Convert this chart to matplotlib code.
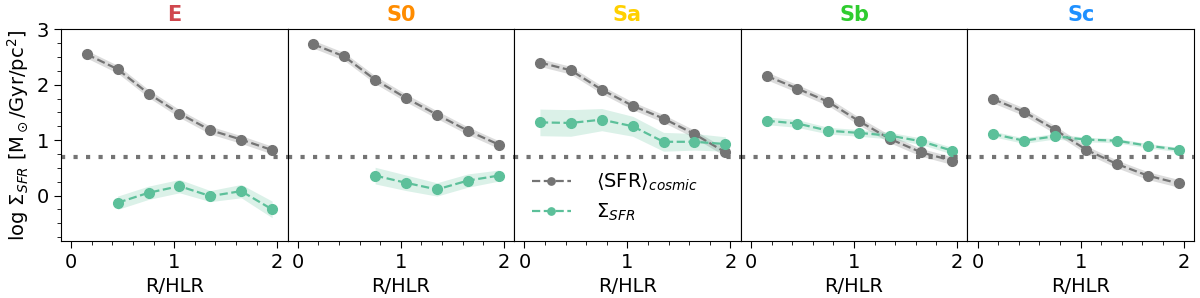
import numpy as np
import matplotlib
matplotlib.use("Agg")
import matplotlib.pyplot as plt
from matplotlib.ticker import MultipleLocator

types = ["E", "S0", "Sa", "Sb", "Sc"]
title_colors = ["#d0474e", "#ff8c00", "#ffd000", "#2fcc2f", "#1e90ff"]
radius = [0.15, 0.45, 0.75, 1.05, 1.35, 1.65, 1.95]

cosmic = {
    "E":  [2.55, 2.28, 1.84, 1.48, 1.18, 1.01, 0.82],
    "S0": [2.73, 2.51, 2.09, 1.76, 1.46, 1.17, 0.92],
    "Sa": [2.40, 2.26, 1.91, 1.62, 1.39, 1.11, 0.78],
    "Sb": [2.16, 1.93, 1.69, 1.34, 1.02, 0.78, 0.63],
    "Sc": [1.74, 1.51, 1.19, 0.83, 0.57, 0.36, 0.22],
}
cosmic_err = {
    "E":  [0.07, 0.07, 0.07, 0.07, 0.07, 0.07, 0.07],
    "S0": [0.07, 0.07, 0.07, 0.07, 0.07, 0.07, 0.07],
    "Sa": [0.07, 0.07, 0.07, 0.07, 0.07, 0.07, 0.07],
    "Sb": [0.07, 0.07, 0.07, 0.07, 0.07, 0.07, 0.07],
    "Sc": [0.07, 0.07, 0.07, 0.07, 0.07, 0.07, 0.07],
}
sfr = {
    "E":  [None, -0.13, 0.05, 0.17, -0.01, 0.08, -0.25],
    "S0": [None, None, 0.36, 0.23, 0.11, 0.27, 0.36],
    "Sa": [1.32, 1.31, 1.37, 1.25, 0.97, 0.97, 0.93],
    "Sb": [1.35, 1.30, 1.17, 1.13, 1.08, 0.98, 0.81],
    "Sc": [1.11, 0.99, 1.07, 1.01, 0.99, 0.90, 0.83],
}
sfr_err = {
    "E":  [None, 0.12, 0.12, 0.12, 0.10, 0.12, 0.15],
    "S0": [None, None, 0.15, 0.14, 0.12, 0.12, 0.10],
    "Sa": [0.24, 0.24, 0.20, 0.18, 0.17, 0.15, 0.13],
    "Sb": [0.07, 0.07, 0.06, 0.06, 0.06, 0.06, 0.06],
    "Sc": [0.05, 0.05, 0.05, 0.04, 0.04, 0.04, 0.04],
}
threshold = 0.7

gray = "#747474"
green = "#5cc09a"

fig, axes = plt.subplots(1, 5, figsize=(12, 2.98), dpi=100, sharey=True)
fig.subplots_adjust(left=0.0508, right=0.995, top=0.9017, bottom=0.1913, wspace=0)

for i, (ax, t) in enumerate(zip(axes, types)):
    r = np.array(radius)
    c = np.array(cosmic[t])
    ce = np.array(cosmic_err[t])
    ax.fill_between(r, c - ce, c + ce, color=gray, alpha=0.25, lw=0)
    l1, = ax.plot(r, c, "--o", color=gray, ms=7, lw=1.6, label=r"$\langle\mathrm{SFR}\rangle_{cosmic}$")
    mask = np.array([v is not None for v in sfr[t]])
    rs = r[mask]
    s = np.array([v for v in sfr[t] if v is not None], dtype=float)
    se = np.array([v for v in sfr_err[t] if v is not None], dtype=float)
    ax.fill_between(rs, s - se, s + se, color=green, alpha=0.22, lw=0)
    l2, = ax.plot(rs, s, "--o", color=green, ms=7, lw=1.6, label=r"$\Sigma_{SFR}$")
    ax.axhline(threshold, color=gray, ls=(0, (1, 2)), lw=3)
    ax.set_xlim(-0.1, 2.1)
    ax.set_ylim(-0.82, 3)
    ax.xaxis.set_major_locator(MultipleLocator(1))
    ax.xaxis.set_minor_locator(MultipleLocator(0.2))
    ax.yaxis.set_major_locator(MultipleLocator(1))
    ax.yaxis.set_minor_locator(MultipleLocator(0.25))
    ax.tick_params(axis="both", which="major", labelsize=14, direction="out", length=5)
    ax.tick_params(axis="both", which="minor", direction="out", length=3)
    ax.set_xlabel("R/HLR", fontsize=14)
    ax.set_title(t, color=title_colors[i], fontsize=15, fontweight="bold", pad=6)
    if i > 0:
        ax.tick_params(axis="y", which="both", left=False, labelleft=False)
    if t == "Sa":
        ax.legend(handles=[l1, l2], loc="lower left", bbox_to_anchor=(0.0, 0.0),
                  frameon=False, fontsize=14, handlelength=2.0, handletextpad=1.3,
                  markerscale=0.75, labelspacing=0.45)

axes[0].set_ylabel(r"log $\Sigma_{SFR}$ [M$_\odot$/Gyr/pc$^2$]", fontsize=14)

fig.savefig("out.png", dpi=100)
